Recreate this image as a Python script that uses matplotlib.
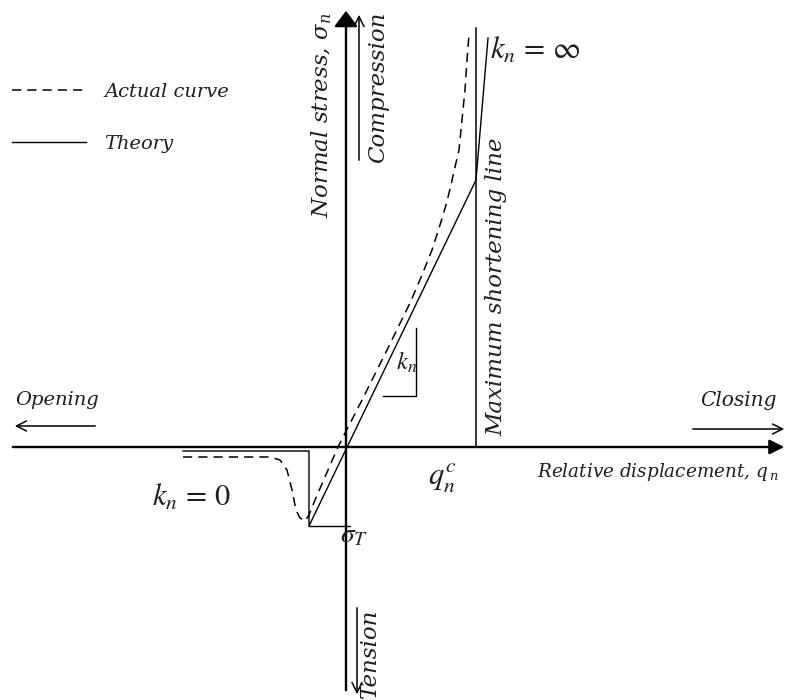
import matplotlib
matplotlib.use('Agg')
import matplotlib.pyplot as plt

plt.rcParams['font.family'] = 'DejaVu Serif'
plt.rcParams['mathtext.fontset'] = 'stix'

# joint normal behaviour, displacement q_n vs stress sigma_n (arbitrary units)
q_c = 13.0          # maximum closure
sigma_c = 26.7      # stress reached at q_c on the linear branch
sigma_T = -7.9      # tensile strength
q_T = -3.7          # displacement at tensile failure

theory_q = [-16.3, q_T, q_T, q_c, 14.2]
theory_s = [-0.4, -0.4, sigma_T, sigma_c, 40.9]

actual_q = [-16.3, -7.6, -6.6, -5.9, -5.4, -5.0, -4.6, -4.1, -3.7, -3.1, -0.8,
            1.6, 4.1, 6.4, 7.6, 8.6, 9.4, 10.0, 10.5, 10.9, 11.3, 11.6, 11.9, 12.1, 12.3]
actual_s = [-1.0, -1.0, -1.3, -2.3, -4.3, -6.3, -7.1, -7.4, -6.8, -5.3, 0.0,
            4.7, 9.7, 14.4, 17.2, 19.7, 22.2, 24.2, 26.2, 28.0, 29.7, 32.7, 35.7, 38.7, 41.2]

fig = plt.figure(figsize=(7.94, 7.0), dpi=100)
ax = fig.add_axes([0, 0, 1, 1])
ax.set_xlim(-34.6, 44.8)
ax.set_ylim(-25.3, 44.7)
ax.axis('off')

ink = '#1e1e1e'
txt = dict(style='italic', color=ink, math_fontfamily='dejavuserif')

# main axes with filled heads
ax.annotate('', xy=(44.1, 0), xytext=(-33.6, 0),
            arrowprops=dict(arrowstyle='-|>', lw=1.7, color='black', mutation_scale=22))
ax.annotate('', xy=(0, 43.9), xytext=(0, -24.6),
            arrowprops=dict(arrowstyle='-|>,head_width=0.3', lw=1.7, color='black', mutation_scale=24))

# direction arrows
open_arrow = dict(arrowstyle='->', lw=1.1, color='black', mutation_scale=18)
ax.annotate('', xy=(1.3, 43.5), xytext=(1.3, 28.4), arrowprops=open_arrow)
ax.annotate('', xy=(1.1, -25.0), xytext=(1.1, -15.8), arrowprops=open_arrow)
ax.annotate('', xy=(-33.4, 2.1), xytext=(-24.8, 2.1), arrowprops=open_arrow)
ax.annotate('', xy=(44.1, 1.8), xytext=(34.4, 1.8), arrowprops=open_arrow)

# maximum shortening line
ax.plot([q_c, q_c], [0, 41.9], color='black', lw=1.1)

theory, = ax.plot(theory_q, theory_s, color='black', lw=1.0)
ax.plot([q_T, 0.4], [sigma_T, sigma_T], color='black', lw=1.0)
actual, = ax.plot(actual_q, actual_s, color='black', lw=1.1, linestyle=(0, (6, 4)))

# slope marker for k_n
ax.plot([3.7, 7.0, 7.0], [5.1, 5.1, 11.9], color='black', lw=1.0)

ax.legend([actual, theory], ['Actual curve', 'Theory'], loc='upper left',
          bbox_to_anchor=(0.015, 0.882), frameon=False, handlelength=3.8,
          handletextpad=0.95, labelspacing=1.75, borderpad=0, borderaxespad=0,
          labelcolor=ink, prop=dict(family='DejaVu Serif', style='italic', size=14))

ax.text(-2.4, 33.2, r'Normal stress, $\sigma_n$', rotation=90, ha='center', va='center', fontsize=16.5, **txt)
ax.text(3.2, 36.0, 'Compression', rotation=90, ha='center', va='center', fontsize=16.5, **txt)
ax.text(15.0, 16.0, 'Maximum shortening line', rotation=90, ha='center', va='center', fontsize=16.5, **txt)
ax.text(2.4, -20.6, 'Tension', rotation=90, ha='center', va='center', fontsize=16.5, **txt)
ax.text(-33.1, 4.7, 'Opening', ha='left', va='center', fontsize=14, **txt)
ax.text(43.1, 4.7, 'Closing', ha='right', va='center', fontsize=14.5, **txt)
ax.text(19.1, -2.5, r'Relative displacement, $q_{\,n}$', ha='left', va='center', fontsize=13.2, **txt)

ax.text(14.4, 39.7, r'$k_n\,=\,\infty$', ha='left', va='center', fontsize=22, color=ink)
ax.text(-19.4, -5.0, r'$k_n\,=\,0$', ha='left', va='center', fontsize=22, color=ink)
ax.text(9.6, -3.1, r'$q_n^c$', ha='center', va='center', fontsize=22, color=ink)
ax.text(-0.6, -8.8, r'$\sigma_T$', ha='left', va='center', fontsize=20, color=ink)
ax.text(5.0, 8.5, r'$k_n$', ha='left', va='center', fontsize=18, color=ink)

fig.savefig('out.png', dpi=100)
